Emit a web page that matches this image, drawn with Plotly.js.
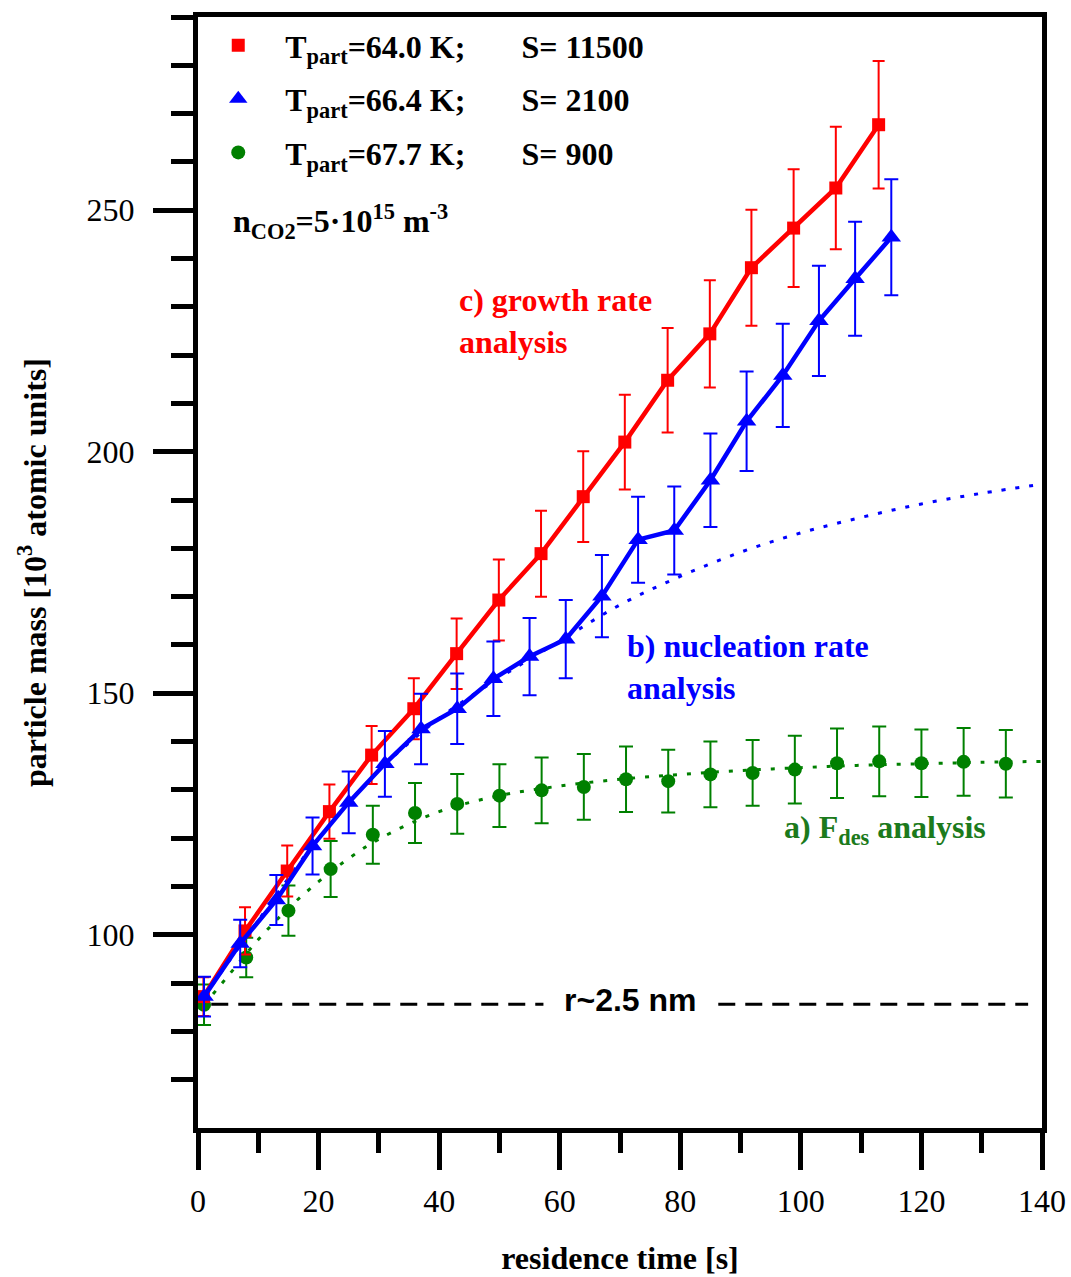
<!DOCTYPE html>
<html><head><meta charset="utf-8">
<script src="https://cdn.plot.ly/plotly-3.0.1.min.js"></script>
<style>html,body{margin:0;padding:0;background:#fff}</style>
</head><body>
<div id="chart" style="width:1071px;height:1277px"></div>
<script>
// ---- data ----
const redX   = [0.9, 7.8, 14.8, 21.8, 28.8, 35.8, 42.9, 49.9, 56.9, 63.9, 70.8, 77.9, 84.9, 91.8, 98.8, 105.8, 112.9];
const redY   = [87.2, 100.8, 113.2, 125.5, 137.2, 146.8, 158.2, 169.3, 178.9, 190.7, 202.0, 214.8, 224.4, 238.1, 246.3, 254.6, 267.7];
const redErr = [4.0, 4.9, 5.3, 5.6, 6.0, 6.3, 7.3, 8.4, 8.9, 9.4, 9.8, 10.8, 11.1, 12.0, 12.2, 12.7, 13.2];

const blueX   = [1, 7, 13, 19, 25, 31, 37, 43, 49, 55, 61, 67, 73, 79, 85, 91, 97, 103, 109, 115];
const blueY   = [87.2, 98.2, 107.2, 118.4, 127.4, 135.4, 142.6, 146.8, 153.0, 157.6, 161.2, 170.1, 181.8, 183.7, 194.1, 206.3, 215.8, 227.1, 235.8, 244.4];
const blueErr = [4.1, 4.9, 5.2, 5.9, 6.4, 6.8, 7.3, 7.3, 7.7, 8.0, 8.1, 8.5, 8.9, 9.1, 9.7, 10.3, 10.7, 11.4, 11.8, 12.0];

const greenX   = [1, 8, 15, 22, 29, 36, 43, 50, 57, 64, 71, 78, 85, 92, 99, 106, 113, 120, 127, 134];
const greenY   = [85.5, 95.3, 105.0, 113.6, 120.7, 125.2, 127.1, 128.8, 129.9, 130.6, 132.2, 131.8, 133.2, 133.5, 134.2, 135.5, 135.9, 135.5, 135.8, 135.4];
const greenErr = [4.2, 4.1, 5.2, 5.8, 6.0, 6.2, 6.2, 6.5, 6.8, 6.8, 6.8, 6.5, 6.8, 6.8, 7.0, 7.2, 7.2, 7.0, 7.0, 7.0];

// model curves (dotted)
const blueFitX  = [1, 10, 20, 30, 40, 50, 60, 70, 80, 90, 100, 110, 120, 130, 140];
const blueFitY  = [87.2, 103.0, 120.0, 134.0, 144.8, 153.2, 160.8, 168.3, 174.2, 179.2, 183.2, 186.4, 189.2, 191.4, 193.3];
const greenFitX = [1, 5, 10, 15, 20, 25, 30, 40, 50, 60, 70, 80, 90, 100, 110, 120, 130, 140];
const greenFitY = [85.5, 91.5, 99.0, 105.5, 111.0, 115.8, 119.8, 125.5, 128.8, 130.8, 132.2, 133.2, 134.0, 134.6, 135.1, 135.4, 135.7, 135.9];

// r ~ 2.5 nm reference level and the two dashed stretches around its label
const refLevel = 85.6;
const refSegments = [[2.2, 57.3], [86.3, 137.7]];

const legendNames = [
  'T<sub>part</sub>=64.0 K;\u00A0\u00A0\u00A0\u00A0\u00A0\u00A0\u00A0S= 11500',
  'T<sub>part</sub>=66.4 K;\u00A0\u00A0\u00A0\u00A0\u00A0\u00A0\u00A0S= 2100',
  'T<sub>part</sub>=67.7 K;\u00A0\u00A0\u00A0\u00A0\u00A0\u00A0\u00A0S= 900'
];
const xTicks = [0, 20, 40, 60, 80, 100, 120, 140];
const yTicks = [100, 150, 200, 250];

// ---- styling ----
const RED = '#ff0000', BLUE = '#0000ff', GREEN = '#008000';
const SERIF = 'Liberation Serif, Times New Roman, serif';
const SANS = 'Liberation Sans, Arial, sans-serif';

const refX = [], refY = [];
refSegments.forEach((s, i) => {
  if (i) { refX.push(null); refY.push(null); }
  refX.push(s[0], s[1]); refY.push(refLevel, refLevel);
});

const traces = [
  {x: refX, y: refY, mode: 'lines', line: {color: '#000', width: 3, dash: '17px,10px'}, showlegend: false, hoverinfo: 'skip'},
  {x: greenFitX, y: greenFitY, mode: 'lines', line: {color: GREEN, width: 3, dash: '4px,10px', shape: 'spline'}, showlegend: false},
  {x: blueFitX, y: blueFitY, mode: 'lines', line: {color: BLUE, width: 3, dash: '4px,10px', shape: 'spline'}, showlegend: false},
  {x: greenX, y: greenY, mode: 'markers', name: legendNames[2], legendrank: 3, legendgroup: 'g',
   marker: {symbol: 'circle', size: 14, color: GREEN},
   error_y: {type: 'data', array: greenErr, visible: true, color: GREEN, thickness: 2, width: 7}},
  {x: redX, y: redY, mode: 'lines', line: {color: RED, width: 4.5}, showlegend: false},
  {x: redX, y: redY, mode: 'markers', name: legendNames[0], legendrank: 1, legendgroup: 'r',
   marker: {symbol: 'square', size: 13, color: RED},
   error_y: {type: 'data', array: redErr, visible: true, color: RED, thickness: 2, width: 6}},
  {x: blueX, y: blueY, mode: 'lines', line: {color: BLUE, width: 4.5}, showlegend: false},
  {x: blueX, y: blueY, mode: 'markers', name: legendNames[1], legendrank: 2, legendgroup: 'b',
   marker: {symbol: 'triangle-up', size: 17, color: BLUE},
   error_y: {type: 'data', array: blueErr, visible: true, color: BLUE, thickness: 2, width: 7}}
];

const minorY = [];
for (let v = 70; v <= 290; v += 10) if (yTicks.indexOf(v) < 0) minorY.push(v);

const layout = {
  width: 1071, height: 1277,
  margin: {l: 198, r: 29, t: 17, b: 149},
  paper_bgcolor: '#fff', plot_bgcolor: '#fff',
  showlegend: true,
  legend: {x: -0.008, y: 0.9992, xanchor: 'left', yanchor: 'top', bgcolor: 'rgba(0,0,0,0)',
           font: {family: SERIF, size: 32, color: '#000', weight: 'bold'},
           itemwidth: 84, tracegroupgap: 9, traceorder: 'grouped'},
  xaxis: {range: [0, 140], tickmode: 'array', tickvals: xTicks, ticks: 'outside', ticklen: 37, tickwidth: 5,
          tickcolor: '#000', showline: true, linewidth: 5, linecolor: '#000', mirror: true,
          showgrid: false, zeroline: false, ticklabelstandoff: 4,
          tickfont: {family: SERIF, size: 32, color: '#000'},
          minor: {tickmode: 'linear', tick0: 10, dtick: 20, ticks: 'outside', ticklen: 20, tickwidth: 5, tickcolor: '#000', showgrid: false},
          title: {text: '<b>residence time [s]</b>', font: {family: SERIF, size: 32, color: '#000'}, standoff: 30}},
  yaxis: {range: [60, 290], tickmode: 'array', tickvals: yTicks, ticks: 'outside', ticklen: 40, tickwidth: 5,
          tickcolor: '#000', showline: true, linewidth: 5, linecolor: '#000', mirror: true,
          showgrid: false, zeroline: false, ticklabelstandoff: 12,
          tickfont: {family: SERIF, size: 32, color: '#000'},
          minor: {tickmode: 'array', tickvals: minorY, ticks: 'outside', ticklen: 22, tickwidth: 5, tickcolor: '#000', showgrid: false},
          title: {text: '<b>particle mass [10<sup>3</sup> atomic units]</b>', font: {family: SERIF, size: 32, color: '#000'}, standoff: 32}},
  annotations: [
    {x: 43.0, y: 227.1, xref: 'x', yref: 'y', xanchor: 'left', yanchor: 'middle', align: 'left', showarrow: false,
     text: '<b>c) growth rate<br>analysis</b>', font: {family: SERIF, size: 32, color: RED}},
    {x: 70.8, y: 155.5, xref: 'x', yref: 'y', xanchor: 'left', yanchor: 'middle', align: 'left', showarrow: false,
     text: '<b>b) nucleation rate<br>analysis</b>', font: {family: SERIF, size: 32, color: BLUE}},
    {x: 96.9, y: 121.7, xref: 'x', yref: 'y', xanchor: 'left', yanchor: 'middle', align: 'left', showarrow: false,
     text: '<b>a) F<sub>des</sub> analysis</b>', font: {family: SERIF, size: 32, color: '#1c7a1c'}},
    {x: 5.4, y: 247.6, xref: 'x', yref: 'y', xanchor: 'left', yanchor: 'middle', align: 'left', showarrow: false,
     text: '<b>n<sub>CO2</sub>=5·10<sup>15</sup> m<sup>-3</sup></b>', font: {family: SERIF, size: 32, color: '#000'}},
    {x: 71.8, y: 86.5, xref: 'x', yref: 'y', xanchor: 'center', yanchor: 'middle', showarrow: false,
     text: '<b>r~2.5 nm</b>', font: {family: SANS, size: 32, color: '#000'}}
  ]
};

Plotly.newPlot('chart', traces, layout, {displayModeBar: false, staticPlot: true});
</script>
</body></html>
